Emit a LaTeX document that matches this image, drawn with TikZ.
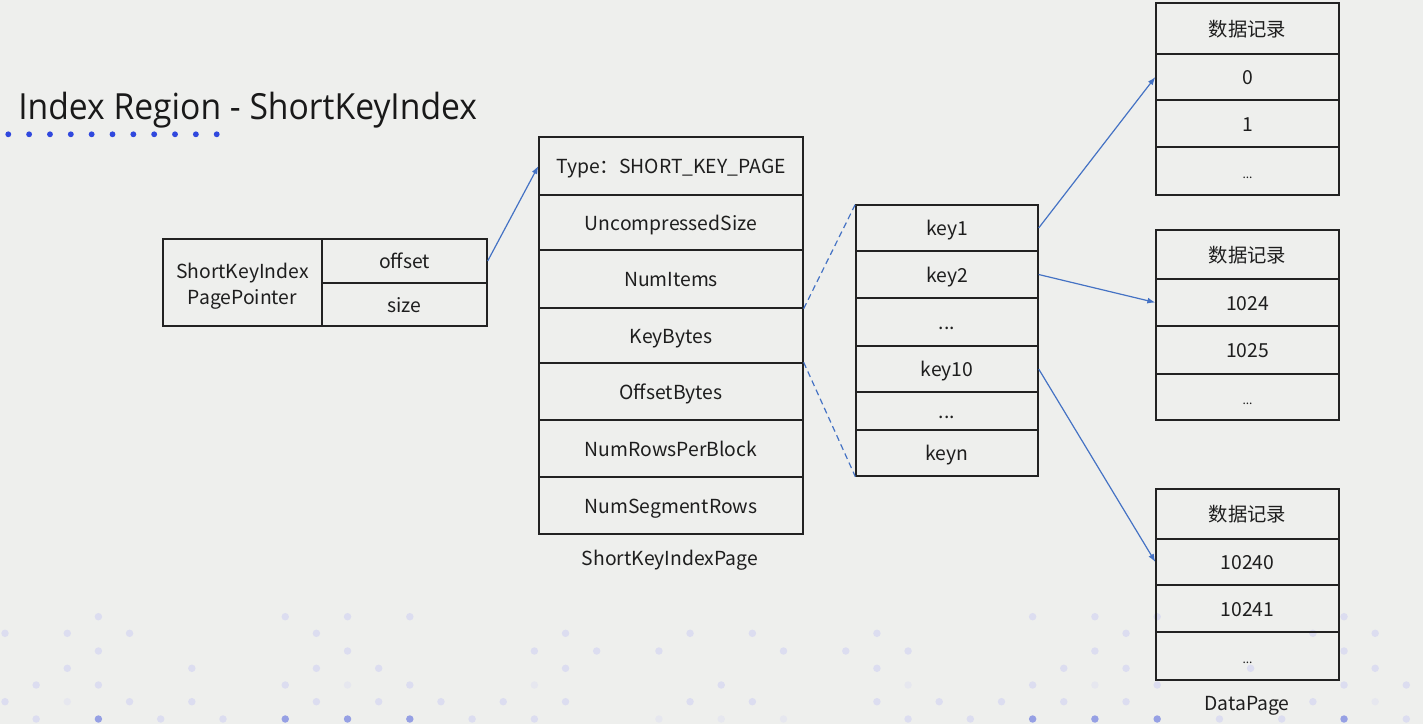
\documentclass[tikz,border=0pt]{standalone}
\usepackage{fontspec}
\setmainfont{Noto Sans CJK SC}
\newfontfamily\titlefont[FakeStretch=0.935]{Open Sans}
\usetikzlibrary{arrows.meta}
\definecolor{bg}{RGB}{238,239,237}
\definecolor{boxline}{RGB}{34,34,34}
\definecolor{txt}{RGB}{30,30,30}
\definecolor{arrowblue}{RGB}{68,114,196}
\definecolor{titledot}{RGB}{48,72,222}
\definecolor{dotlight}{RGB}{220,221,240}
\definecolor{dotfaint}{RGB}{230,231,239}
\definecolor{dotdark}{RGB}{150,160,228}
\newcommand\cellat[6]{\node[cell,onerow,minimum width=#4*0.75pt,minimum height=#5*0.75pt] (#1) at (#2,#3) {#6};}
\begin{document}
\begin{tikzpicture}[x=0.75pt,y=-0.75pt,
  cell/.style={draw=boxline,line width=1pt,inner sep=0pt,anchor=center,
    font=\fontsize{14.5}{19.5}\selectfont,text=txt},
  onerow/.style={text height=1.13em,text depth=0pt},
  lbl/.style={inner sep=0pt,font=\fontsize{14.5}{19.5}\selectfont,text=txt},
  small/.style={font=\fontsize{10}{12}\selectfont},
  link/.style={draw=arrowblue,line width=0.9pt,-{Latex[length=6pt,width=4.5pt]}},
  dashlink/.style={draw=arrowblue,line width=0.9pt,dash pattern=on 4.5pt off 3pt}]
\useasboundingbox (0,0) rectangle (1423,724);
\fill[bg] (0,0) rectangle (1423,724);
% background dots
\foreach \k in {3,9,11,13,33,35,37,43} \fill[dotlight] (5+31.14*\k,616.7) circle[radius=2.8pt];
\foreach \k in {0,2,4,10,18,22,24,28,36,42,44} \fill[dotlight] (5+31.14*\k,633.3) circle[radius=2.8pt];
\foreach \k in {3,11,17,19,21,25,27,29,35,43} \fill[dotlight] (5+31.14*\k,651) circle[radius=2.8pt];
\foreach \k in {2,6,10,12,18,28,34,36,40,44} \fill[dotlight] (5+31.14*\k,668.3) circle[radius=2.8pt];
\foreach \k in {1,3,9,13,23,33,37,43,45} \fill[dotlight] (5+31.14*\k,685) circle[radius=2.8pt];
\foreach \k in {11,17,29,35} \fill[dotfaint] (5+31.14*\k,685) circle[radius=2.8pt];
\foreach \k in {0,4,6,10,12,14,16,18,22,24,28,30,32,34,36,42} \fill[dotlight] (5+31.14*\k,701.7) circle[radius=2.8pt];
\foreach \k in {2,44} \fill[dotfaint] (5+31.14*\k,701.7) circle[radius=2.8pt];
\foreach \k in {1,5,7,15,17,29,31,39,41,45} \fill[dotlight] (5+31.14*\k,719) circle[radius=2.8pt];
\foreach \k in {21,23,25} \fill[dotfaint] (5+31.14*\k,719) circle[radius=2.8pt];
\foreach \k in {3,9,11,13,33,35,37,43} \fill[dotdark] (5+31.14*\k,719) circle[radius=2.8pt];
% title
\node[anchor=base west,inner sep=0pt,font=\titlefont\fontsize{27}{30}\selectfont,text=black!90] (title) at (18,119) {Index Region - ShortKeyIndex};
\foreach \i in {0,...,10} \fill[titledot] (8.3+20.84*\i,134.3) circle[radius=2.2pt];
% pointer
\node[cell,minimum width=159*0.75pt,minimum height=87*0.75pt] (pname) at (242.5,282.5)
  {\raisebox{-3pt}[\height][\depth]{\begin{tabular}{@{}c@{}}ShortKeyIndex\\PagePointer\end{tabular}}};
\cellat{poff}{404.5}{261}{165}{44}{offset}
\cellat{psize}{404.5}{304.5}{165}{43}{size}
% page
\cellat{t1}{671}{166}{264}{58}{Type：SHORT\_KEY\_PAGE}
\cellat{t2}{671}{222.5}{264}{55}{UncompressedSize}
\cellat{t3}{671}{279}{264}{58}{NumItems}
\cellat{t4}{671}{335.5}{264}{55}{KeyBytes}
\cellat{t5}{671}{391.5}{264}{57}{OffsetBytes}
\cellat{t6}{671}{448.5}{264}{57}{NumRowsPerBlock}
\cellat{t7}{671}{505.5}{264}{57}{NumSegmentRows}
\node[lbl] (pagelbl) at (670,560) {ShortKeyIndexPage};
% keys
\cellat{k1}{947}{228}{182}{46}{key1}
\cellat{k2}{947}{274.5}{182}{47}{key2}
\cellat{k3}{947}{322}{182}{48}{...}
\cellat{k4}{947}{369}{182}{46}{key10}
\cellat{k5}{947}{411}{182}{38}{...}
\cellat{k6}{947}{453}{182}{46}{keyn}
% data pages
\cellat{a1}{1247.5}{28.5}{183}{51}{数据记录}
\cellat{a2}{1247.5}{77}{183}{46}{0}
\cellat{a3}{1247.5}{123.5}{183}{47}{1}
\cellat{a4}{1247.5}{171}{183}{48}{\small ...}
\cellat{b1}{1247.5}{254.5}{183}{49}{数据记录}
\cellat{b2}{1247.5}{302.5}{183}{47}{1024}
\cellat{b3}{1247.5}{350}{183}{48}{1025}
\cellat{b4}{1247.5}{397}{183}{46}{\small ...}
\cellat{c1}{1247.5}{514}{183}{50}{数据记录}
\cellat{c2}{1247.5}{562}{183}{46}{10240}
\cellat{c3}{1247.5}{608.5}{183}{47}{10241}
\cellat{c4}{1247.5}{656}{183}{48}{\small ...}
\node[lbl] (datalbl) at (1247,706) {DataPage};
% connectors
\draw[link] (poff.east) -- (t1.west);
\draw[link] (k1.east) -- (a2.west);
\draw[link] (k2.east) -- (b2.west);
\draw[link] (k4.east) -- (c2.west);
\draw[dashlink] (t3.south east) -- (k1.north west);
\draw[dashlink] (t5.north east) -- (k6.south west);
\end{tikzpicture}
\end{document}
